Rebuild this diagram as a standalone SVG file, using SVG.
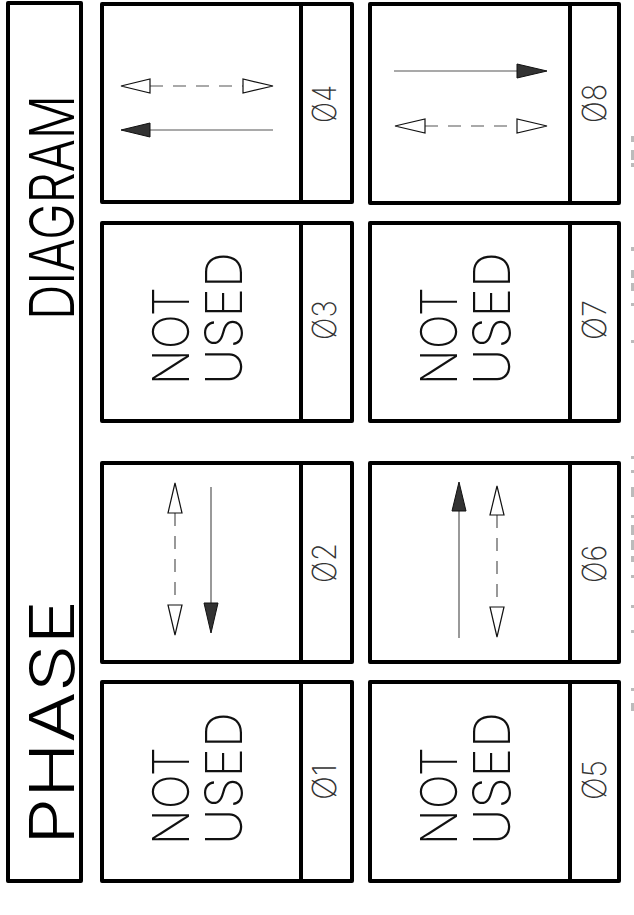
<svg xmlns="http://www.w3.org/2000/svg" width="634" height="915" viewBox="0 0 634 915">
<style>
.box{fill:#fff;stroke:#000;stroke-width:4;stroke-linejoin:round}
.div{stroke:#000;stroke-width:4}
.lbl{font-family:Inter,Roboto,"Liberation Sans",Arial,sans-serif;fill:#111}
.big{font-size:51px;font-weight:200}
.num{font-size:33px;font-weight:200;fill:#333}
.title{font-size:62px;font-weight:300;fill:#000}
.solid{stroke:#555;stroke-width:1.2;fill:none}
.dash{stroke:#555;stroke-width:1.2;fill:none;stroke-dasharray:13 10}
.open{fill:#fff;stroke:#111;stroke-width:1.2}
.fill{fill:#333;stroke:#111;stroke-width:1}
.frag{fill:#bbb}
</style>
<g id="title">
<rect class="box" x="8" y="3" width="73" height="878"/>
<text class="lbl title" transform="translate(74,845) rotate(-90)" textLength="245" lengthAdjust="spacingAndGlyphs">PHASE</text>
<text class="lbl title" transform="translate(74,320) rotate(-90)" textLength="225" lengthAdjust="spacingAndGlyphs">DIAGRAM</text>
</g>
<g id="cell04">
<rect class="box" x="102" y="4" width="250" height="198"/>
<line class="div" x1="301" y1="4" x2="301" y2="202"/>
<text class="lbl num" transform="translate(336,123) rotate(-90)" textLength="38" lengthAdjust="spacingAndGlyphs">Ø4</text>
</g>
<g id="cell03">
<rect class="box" x="102" y="223" width="250" height="198"/>
<line class="div" x1="301" y1="223" x2="301" y2="421"/>
<text class="lbl big" transform="translate(189,385) rotate(-90)" textLength="98" lengthAdjust="spacingAndGlyphs">NOT</text>
<text class="lbl big" transform="translate(242,385) rotate(-90)" textLength="133" lengthAdjust="spacingAndGlyphs">USED</text>
<text class="lbl num" transform="translate(336,340) rotate(-90)" textLength="40" lengthAdjust="spacingAndGlyphs">Ø3</text>
</g>
<g id="cell02">
<rect class="box" x="102" y="463" width="250" height="199"/>
<line class="div" x1="301" y1="463" x2="301" y2="662"/>
<text class="lbl num" transform="translate(336,583) rotate(-90)" textLength="40" lengthAdjust="spacingAndGlyphs">Ø2</text>
</g>
<g id="cell01">
<rect class="box" x="102" y="682" width="250" height="199"/>
<line class="div" x1="301" y1="682" x2="301" y2="881"/>
<text class="lbl big" transform="translate(189,845) rotate(-90)" textLength="98" lengthAdjust="spacingAndGlyphs">NOT</text>
<text class="lbl big" transform="translate(242,845) rotate(-90)" textLength="133" lengthAdjust="spacingAndGlyphs">USED</text>
<text class="lbl num" transform="translate(336,800) rotate(-90)" textLength="36" lengthAdjust="spacingAndGlyphs">Ø1</text>
</g>
<g id="cell08">
<rect class="box" x="370" y="4" width="249" height="199"/>
<line class="div" x1="570" y1="4" x2="570" y2="203"/>
<text class="lbl num" transform="translate(606,123) rotate(-90)" textLength="39" lengthAdjust="spacingAndGlyphs">Ø8</text>
</g>
<g id="cell07">
<rect class="box" x="370" y="223" width="249" height="198"/>
<line class="div" x1="570" y1="223" x2="570" y2="421"/>
<text class="lbl big" transform="translate(457,385) rotate(-90)" textLength="98" lengthAdjust="spacingAndGlyphs">NOT</text>
<text class="lbl big" transform="translate(510,385) rotate(-90)" textLength="133" lengthAdjust="spacingAndGlyphs">USED</text>
<text class="lbl num" transform="translate(606,340) rotate(-90)" textLength="40" lengthAdjust="spacingAndGlyphs">Ø7</text>
</g>
<g id="cell06">
<rect class="box" x="370" y="463" width="249" height="199"/>
<line class="div" x1="570" y1="463" x2="570" y2="662"/>
<text class="lbl num" transform="translate(606,583) rotate(-90)" textLength="38" lengthAdjust="spacingAndGlyphs">Ø6</text>
</g>
<g id="cell05">
<rect class="box" x="370" y="682" width="249" height="199"/>
<line class="div" x1="570" y1="682" x2="570" y2="881"/>
<text class="lbl big" transform="translate(457,845) rotate(-90)" textLength="98" lengthAdjust="spacingAndGlyphs">NOT</text>
<text class="lbl big" transform="translate(510,845) rotate(-90)" textLength="133" lengthAdjust="spacingAndGlyphs">USED</text>
<text class="lbl num" transform="translate(606,800) rotate(-90)" textLength="40" lengthAdjust="spacingAndGlyphs">Ø5</text>
</g>
<g id="connectors">
<line class="dash" x1="150" y1="86" x2="243" y2="86"/>
<polygon class="open" points="121,86 150,79 150,93"/>
<polygon class="open" points="273,86 243,79 243,93"/>
<line class="solid" x1="150" y1="130" x2="273" y2="130"/>
<polygon class="fill" points="121,130 150,123 150,137"/>
<line class="solid" x1="394" y1="71" x2="517" y2="71"/>
<polygon class="fill" points="547,71 517,64 517,78"/>
<line class="dash" x1="425" y1="126" x2="517" y2="126"/>
<polygon class="open" points="395,126 425,119 425,133"/>
<polygon class="open" points="547,126 517,119 517,133"/>
<line class="dash" x1="175" y1="513" x2="175" y2="605"/>
<polygon class="open" points="175,483 168,513 182,513"/>
<polygon class="open" points="175,635 168,605 182,605"/>
<line class="solid" x1="211" y1="487" x2="211" y2="603"/>
<polygon class="fill" points="211,633 204,603 218,603"/>
<line class="solid" x1="459" y1="511" x2="459" y2="638"/>
<polygon class="fill" points="459,482 452,511 466,511"/>
<line class="dash" x1="497" y1="515" x2="497" y2="607"/>
<polygon class="open" points="497,486 490,515 504,515"/>
<polygon class="open" points="497,637 490,607 504,607"/>
</g>
<g id="edge-fragments">
<rect class="frag" x="631" y="136" width="3" height="6"/>
<rect class="frag" x="631" y="150" width="3" height="10"/>
<rect class="frag" x="631" y="163" width="3" height="4"/>
<rect class="frag" x="631" y="247" width="3" height="4"/>
<rect class="frag" x="631" y="270" width="3" height="8"/>
<rect class="frag" x="631" y="283" width="3" height="8"/>
<rect class="frag" x="631" y="303" width="3" height="3"/>
<rect class="frag" x="631" y="340" width="3" height="3"/>
<rect class="frag" x="631" y="456" width="3" height="3"/>
<rect class="frag" x="631" y="470" width="3" height="3"/>
<rect class="frag" x="631" y="487" width="3" height="10"/>
<rect class="frag" x="631" y="515" width="3" height="3"/>
<rect class="frag" x="631" y="525" width="3" height="10"/>
<rect class="frag" x="631" y="540" width="3" height="10"/>
<rect class="frag" x="631" y="556" width="3" height="6"/>
<rect class="frag" x="631" y="575" width="3" height="3"/>
<rect class="frag" x="631" y="605" width="3" height="3"/>
<rect class="frag" x="631" y="630" width="3" height="3"/>
<rect class="frag" x="631" y="688" width="3" height="3"/>
<rect class="frag" x="631" y="703" width="3" height="8"/>
</g>
</svg>
